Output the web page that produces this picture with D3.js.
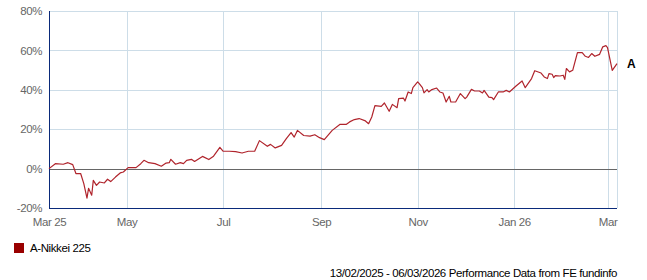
<!DOCTYPE html>
<html>
<head>
<meta charset="utf-8">
<script src="https://cdn.jsdelivr.net/npm/d3@7"></script>
<style>
  body { margin: 0; background: #fff; }
  #chart text { font-family: "Liberation Sans", Arial, sans-serif; font-size: 11.5px; letter-spacing: -0.4px; }
</style>
</head>
<body>
<div id="chart"></div>
<script>
// series: A-Nikkei 225, cumulative performance in %
const dates = [
    "2025-03-13", "2025-03-17", "2025-03-22", "2025-03-25", "2025-03-28", "2025-03-30",
    "2025-04-02", "2025-04-04", "2025-04-06", "2025-04-07", "2025-04-09", "2025-04-10",
    "2025-04-12", "2025-04-14", "2025-04-17", "2025-04-19", "2025-04-21", "2025-04-24",
    "2025-04-27", "2025-04-29", "2025-05-02", "2025-05-07", "2025-05-10", "2025-05-12",
    "2025-05-15", "2025-05-19", "2025-05-23", "2025-05-26", "2025-05-28", "2025-05-29",
    "2025-06-01", "2025-06-04", "2025-06-06", "2025-06-08", "2025-06-11", "2025-06-13",
    "2025-06-18", "2025-06-22", "2025-06-25", "2025-06-29", "2025-07-01", "2025-07-05",
    "2025-07-09", "2025-07-13", "2025-07-17", "2025-07-21", "2025-07-24", "2025-07-29",
    "2025-07-31", "2025-08-03", "2025-08-07", "2025-08-10", "2025-08-13", "2025-08-15",
    "2025-08-17", "2025-08-21", "2025-08-25", "2025-08-28", "2025-08-31", "2025-09-03",
    "2025-09-08", "2025-09-13", "2025-09-17", "2025-09-19", "2025-09-22", "2025-09-25",
    "2025-09-29", "2025-10-01", "2025-10-03", "2025-10-05", "2025-10-09", "2025-10-11",
    "2025-10-14", "2025-10-16", "2025-10-19", "2025-10-20", "2025-10-23", "2025-10-24",
    "2025-10-26", "2025-10-28", "2025-10-29", "2025-11-01", "2025-11-02", "2025-11-04",
    "2025-11-05", "2025-11-07", "2025-11-08", "2025-11-10", "2025-11-13", "2025-11-15",
    "2025-11-17", "2025-11-19", "2025-11-21", "2025-11-22", "2025-11-25", "2025-11-28",
    "2025-12-01", "2025-12-02", "2025-12-05", "2025-12-07", "2025-12-10", "2025-12-12",
    "2025-12-13", "2025-12-16", "2025-12-18", "2025-12-19", "2025-12-22", "2025-12-25",
    "2025-12-27", "2025-12-29", "2026-01-02", "2026-01-06", "2026-01-08", "2026-01-12",
    "2026-01-14", "2026-01-18", "2026-01-20", "2026-01-22", "2026-01-23", "2026-01-25",
    "2026-01-26", "2026-01-27", "2026-01-30", "2026-02-01", "2026-02-02", "2026-02-03",
    "2026-02-05", "2026-02-07", "2026-02-10", "2026-02-13", "2026-02-15", "2026-02-17",
    "2026-02-19", "2026-02-21", "2026-02-24", "2026-02-26", "2026-02-28", "2026-03-01",
    "2026-03-04", "2026-03-07"
];
const values = [
    0, 2.5, 2.2, 3, 2, -2.5,
    -2.5, -7.6, -15, -10, -13.5, -6,
    -8.5, -6.8, -7.3, -5.4, -6.6, -4.3,
    -2.2, -1.7, 0.5, 0.5, 2.5, 4.2,
    3, 2.5, 1.2, 2.8, 3, 4.7,
    2.2, 3, 2.5, 4.2, 4.7, 3.6,
    6.2, 4.6, 6.3, 10.8, 8.9, 8.8,
    8.6, 7.9, 8.8, 8.8, 14.2, 11.3,
    12.3, 10.5, 11.8, 15.2, 18.3, 16.0,
    19.4, 16.8, 16.5, 17.2, 15.7, 14.7,
    19.4, 22.5, 22.5, 23.7, 24.9, 25.4,
    24.2, 22.8, 26.2, 32, 31.6, 33.3,
    29.1, 32.6, 30.9, 35.5, 35.8, 34.3,
    38.9, 38.1, 41.1, 44, 43.1, 41.1,
    38.4, 40.1, 38.9, 40.1, 40.9, 38.9,
    38.4, 33.8, 36.7, 33.8, 33.8, 38.1,
    35.5, 36.3, 40.2, 39.4, 39.4, 38.4,
    39.7, 36.3, 36, 35, 38.9, 38.9,
    39.7, 38.9, 41.8, 44.5, 41.1, 45.7,
    49.7, 48.5, 46.5, 45.7, 48.2, 47.9,
    46.2, 47.2, 47, 47.4, 45.3, 50.8,
    49.1, 49.9, 58.9, 58.9, 57.0, 56.4,
    58.4, 57, 58, 61.8, 62.4, 61.4,
    49.9, 53.3
];

const xDomain = ["2025-03-13", "2026-03-07"];
const xTickDates = ["2025-03-13", "2025-05-01", "2025-07-01", "2025-09-01", "2025-11-01", "2026-01-01", "2026-03-01"];
const xTickLabels = ["Mar 25", "May", "Jul", "Sep", "Nov", "Jan 26", "Mar"];
const yTicks = [-20, 0, 20, 40, 60, 80];

const seriesName = "A-Nikkei 225";
const seriesTag = "A";
const footer = "13/02/2025 - 06/03/2026 Performance Data from FE fundinfo";

const parse = d3.timeParse("%Y-%m-%d");
const data = dates.map((d, i) => ({ date: parse(d), value: values[i] }));

const W = 647, H = 280;
const margin = { top: 11, right: 30, bottom: 72, left: 49 };
const width = W - margin.left - margin.right;
const height = H - margin.top - margin.bottom;

const svg = d3.select("#chart").append("svg")
    .attr("width", W)
    .attr("height", H);

const g = svg.append("g")
    .attr("transform", `translate(${margin.left},${margin.top})`);

const x = d3.scaleTime()
    .domain(xDomain.map(parse))
    .range([0, width]);

const y = d3.scaleLinear()
    .domain([-20, 80])
    .range([height, 0]);

const gridColor = "#cddde8";

// vertical gridlines (plus right border)
g.append("g")
    .selectAll("line")
    .data(xTickDates.map(parse).concat([x.domain()[1]]))
    .enter().append("line")
    .attr("x1", d => Math.round(x(d)) + 0.5)
    .attr("x2", d => Math.round(x(d)) + 0.5)
    .attr("y1", 0)
    .attr("y2", height)
    .attr("stroke", gridColor);

// horizontal gridlines
g.append("g")
    .selectAll("line")
    .data(yTicks)
    .enter().append("line")
    .attr("x1", 0)
    .attr("x2", width)
    .attr("y1", d => Math.round(y(d)) + 0.5)
    .attr("y2", d => Math.round(y(d)) + 0.5)
    .attr("stroke", gridColor);

// zero line
g.append("line")
    .attr("x1", 0)
    .attr("x2", width)
    .attr("y1", Math.round(y(0)) + 0.5)
    .attr("y2", Math.round(y(0)) + 0.5)
    .attr("stroke", "#666");

// y axis labels
const yAxis = g.append("g")
    .call(d3.axisLeft(y).tickValues(yTicks).tickSize(0).tickPadding(7).tickFormat(d => d + "%"));
yAxis.select(".domain").remove();
yAxis.selectAll("text")
    .attr("fill", "#666");

// x axis labels
const xAxis = g.append("g")
    .attr("transform", `translate(0,${height})`)
    .call(d3.axisBottom(x)
        .tickValues(xTickDates.map(parse))
        .tickSize(0)
        .tickPadding(10)
        .tickFormat((d, i) => xTickLabels[i]));
xAxis.select(".domain").remove();
xAxis.selectAll("text")
    .attr("fill", "#666");

// left and bottom axis lines
g.append("line")
    .attr("x1", 0.5).attr("x2", 0.5)
    .attr("y1", 0).attr("y2", height + 1)
    .attr("stroke", "#0a2a7a");
g.append("line")
    .attr("x1", 0).attr("x2", width)
    .attr("y1", Math.round(height) + 0.5).attr("y2", Math.round(height) + 0.5)
    .attr("stroke", "#0a2a7a");

// the series
const line = d3.line()
    .x(d => x(d.date))
    .y(d => y(d.value));

g.append("path")
    .datum(data)
    .attr("fill", "none")
    .attr("stroke", "#b0242c")
    .attr("stroke-width", 1.2)
    .attr("stroke-linejoin", "round")
    .attr("d", line);

// end tag
const last = data[data.length - 1];
g.append("text")
    .attr("x", width + 10)
    .attr("y", y(last.value))
    .attr("dy", "0.35em")
    .style("font-size", "12px")
    .style("font-weight", "bold")
    .style("letter-spacing", "0")
    .text(seriesTag);

// legend
svg.append("rect")
    .attr("x", 14)
    .attr("y", 243)
    .attr("width", 10)
    .attr("height", 10)
    .attr("fill", "#990000");
svg.append("text")
    .attr("x", 30)
    .attr("y", 252)
    .text(seriesName);

// footer
svg.append("text")
    .attr("x", margin.left + width)
    .attr("y", 277)
    .attr("text-anchor", "end")
    .text(footer);
</script>
</body>
</html>
